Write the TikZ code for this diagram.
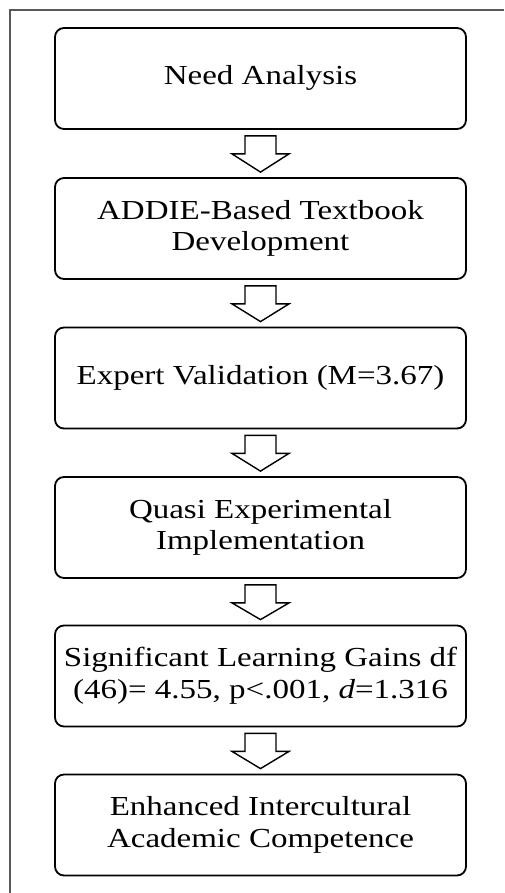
\documentclass[tikz,border=0pt]{standalone}
\usepackage{fontspec}
\usepackage{graphicx}
\setmainfont{Liberation Serif}
\usetikzlibrary{calc}

% text of a stage box: slightly widened serif lines
\newcommand{\boxtext}[1]{\raisebox{-3pt}{\scalebox{1.2}[1]{\fontsize{27.5}{31.6}\selectfont\begin{tabular}{@{}c@{}}#1\end{tabular}}}}

% hollow block arrow from one stage to the next
\newcommand{\flowarrow}[2]{%
  \draw[hollowarrow]
    ($(#1.south)+(-15.5,6)$) -- ($(#1.south)+(-15.5,24)$) --
    ($(#1.south)+(-28.5,24)$) -- ($(#2.north)+(0,-5)$) --
    ($(#1.south)+(28.5,24)$) -- ($(#1.south)+(15.5,24)$) --
    ($(#1.south)+(15.5,6)$) -- cycle;}

\tikzset{
  stage/.style={draw=black, line width=1.8pt, rounded corners=9pt,
    minimum width=411pt, minimum height=101pt, inner sep=0pt,
    fill=white, text=black},
  hollowarrow/.style={draw=black, line width=1.4pt, fill=white, line join=miter},
  frame/.style={draw=black!65, line width=1.1pt}
}

\begin{document}
\begin{tikzpicture}[x=1pt, y=-1pt]
  \useasboundingbox (0,0) rectangle (504,893);
  \fill[white] (0,0) rectangle (504,893);
  % outer frame: only its top and left sides fall on the page
  \draw[frame] (504,10) -- (10,10) -- (10,893);

  \node[stage] (s1) at (260.5,78.5)  {\boxtext{Need Analysis}};
  \node[stage] (s2) at (260.5,228.5) {\boxtext{ADDIE-Based Textbook\\Development}};
  \node[stage] (s3) at (260.5,378)   {\boxtext{Expert Validation (M=3.67)}};
  \node[stage] (s4) at (260.5,527.5) {\boxtext{Quasi Experimental\\Implementation}};
  \node[stage] (s5) at (260.5,676)   {\boxtext{Significant Learning Gains df\\(46)= 4.55, p<.001, \textit{d}=1.316}};
  \node[stage] (s6) at (260.5,825)   {\boxtext{Enhanced Intercultural\\Academic Competence}};

  \flowarrow{s1}{s2}
  \flowarrow{s2}{s3}
  \flowarrow{s3}{s4}
  \flowarrow{s4}{s5}
  \flowarrow{s5}{s6}
\end{tikzpicture}
\end{document}
